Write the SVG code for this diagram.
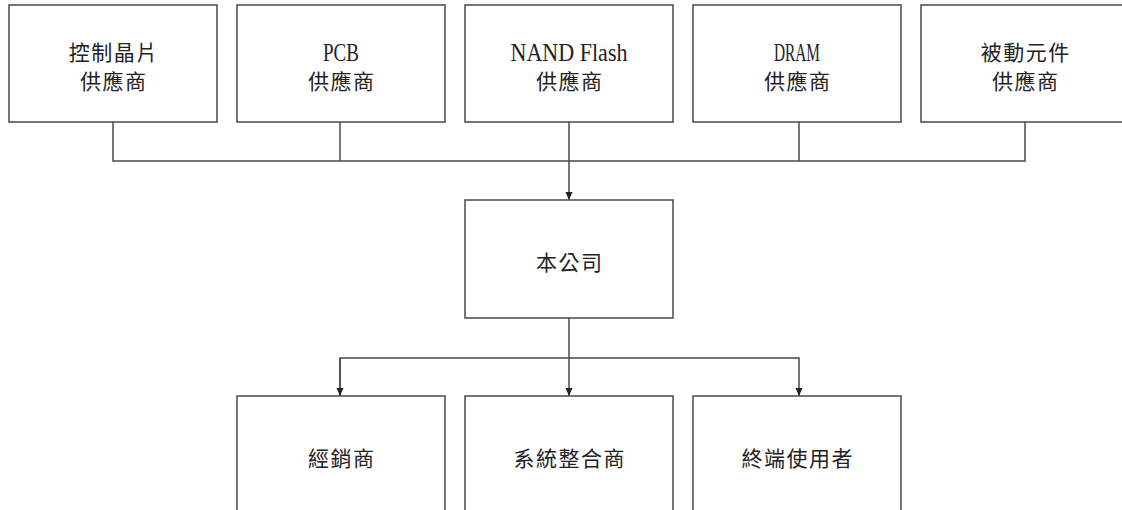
<svg xmlns="http://www.w3.org/2000/svg" width="1122" height="510" viewBox="0 0 1122 510">
<style>
.box{fill:#fff;stroke:#4a4a4a;stroke-width:1.5}
.cn{font-family:"Noto Sans CJK TC","Noto Sans CJK SC",sans-serif;font-size:21px;letter-spacing:1.5px;fill:#222;text-anchor:middle}
.lt{font-family:"Liberation Serif",serif;font-size:26px;fill:#222;text-anchor:middle}
.ln{fill:none;stroke:#4a4a4a;stroke-width:1.5}
</style>
<defs>
<marker id="arr" markerUnits="userSpaceOnUse" markerWidth="8" markerHeight="8" refX="8" refY="3.5" orient="auto" viewBox="0 0 8 7">
<path d="M0,0 L8,3.5 L0,7 z" fill="#222"/>
</marker>
</defs>
<rect width="1122" height="510" fill="#fff"/>
<g id="connectors">
<path class="ln" d="M113,122 V161 H1025 V122 M340,122 V161 M799,122 V161"/>
<path class="ln" d="M569,122 V200" marker-end="url(#arr)"/>
<path class="ln" d="M569,318 V396" marker-end="url(#arr)"/>
<path class="ln" d="M340,396 V358 H799 V396" marker-end="url(#arr)"/>
<path class="ln" d="M340,358 V396" marker-end="url(#arr)"/>
</g>
<g id="n1"><rect class="box" x="9" y="5" width="208" height="117"/>
<text class="cn" x="113.75" y="60">控制晶片</text><text class="cn" x="113.75" y="89">供應商</text></g>
<g id="n2"><rect class="box" x="237" y="5" width="208" height="117"/>
<text class="lt" x="341" y="61" textLength="36" lengthAdjust="spacingAndGlyphs">PCB</text><text class="cn" x="341.75" y="89">供應商</text></g>
<g id="n3"><rect class="box" x="465" y="5" width="208" height="117"/>
<text class="lt" x="569" y="61" textLength="117" lengthAdjust="spacingAndGlyphs">NAND Flash</text><text class="cn" x="569.75" y="89">供應商</text></g>
<g id="n4"><rect class="box" x="693" y="5" width="208" height="117"/>
<text class="lt" x="797" y="61" textLength="46" lengthAdjust="spacingAndGlyphs">DRAM</text><text class="cn" x="797.75" y="89">供應商</text></g>
<g id="n5"><rect class="box" x="921" y="5" width="208" height="117"/>
<text class="cn" x="1025.75" y="60">被動元件</text><text class="cn" x="1025.75" y="89">供應商</text></g>
<g id="n6"><rect class="box" x="465" y="200" width="208" height="118"/>
<text class="cn" x="569.75" y="270">本公司</text></g>
<g id="n7"><rect class="box" x="237" y="396" width="208" height="130"/>
<text class="cn" x="341.75" y="466">經銷商</text></g>
<g id="n8"><rect class="box" x="465" y="396" width="208" height="130"/>
<text class="cn" x="569.75" y="466">系統整合商</text></g>
<g id="n9"><rect class="box" x="693" y="396" width="208" height="130"/>
<text class="cn" x="797.75" y="466">終端使用者</text></g>
</svg>
